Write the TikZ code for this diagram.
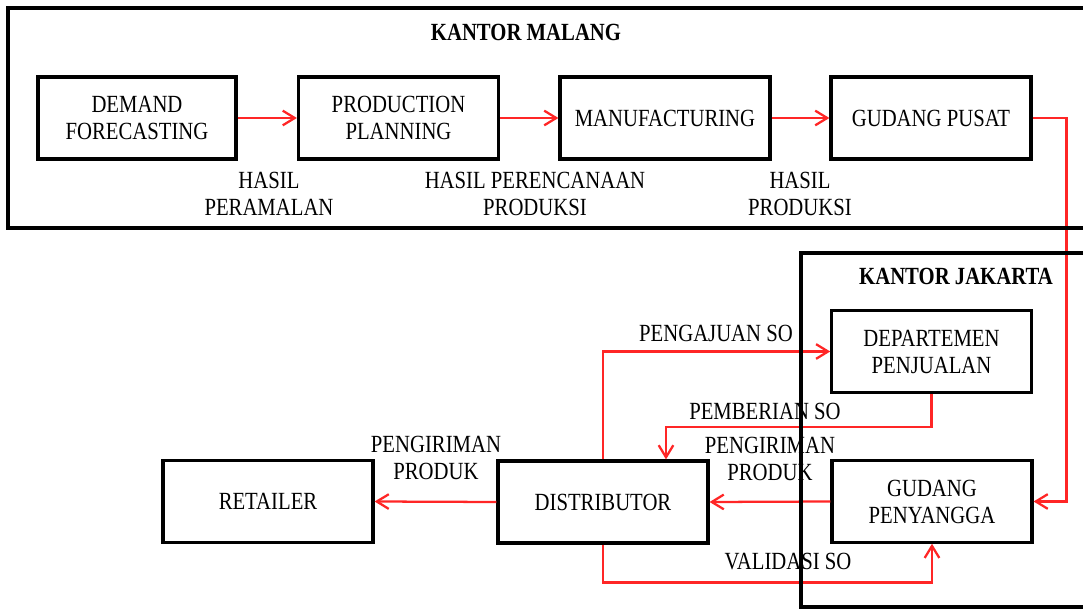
\documentclass[tikz,border=0pt]{standalone}
\usepackage{fontspec}
\setmainfont{Liberation Serif}[FakeStretch=0.84]
\usetikzlibrary{arrows.meta}
\definecolor{FlowRed}{HTML}{FF2626}
\newcommand{\boxfont}{\fontsize{18.5}{20.25}\selectfont}
\tikzset{
  unitbox/.style={draw=black, line width=2.4pt, fill=white, align=center, minimum height=61.5pt, inner sep=2pt, font=\boxfont},
  officeframe/.style={draw=black, line width=2.4pt},
  officetitle/.style={font=\boxfont\bfseries, inner sep=0pt},
  flowlabel/.style={align=center, font=\boxfont, inner sep=0pt},
  flow/.style={-{Straight Barb[length=9pt, width=11pt]}, line width=1.7pt, draw=FlowRed}
}

\begin{document}
\begin{tikzpicture}[x=0.75pt, y=-0.75pt]
\useasboundingbox (0,0) rectangle (1083,610);
\clip (0,0) rectangle (1083,610);
% kantor malang
\node[unitbox, minimum width=148.5pt] (demand) at (137,118) {DEMAND\\FORECASTING};
\node[unitbox, minimum width=150pt] (production) at (398.5,118) {PRODUCTION\\PLANNING};
\node[unitbox, minimum width=157.5pt] (manufacturing) at (665,118) {MANUFACTURING};
\node[unitbox, minimum width=150pt] (pusat) at (931,118) {GUDANG PUSAT};
% kantor jakarta
\node[unitbox, minimum width=149.5pt, minimum height=62pt] (departemen) at (931.5,351.5) {DEPARTEMEN\\PENJUALAN};
\node[unitbox, minimum width=150pt, minimum height=61pt] (penyangga) at (932,501.5) {GUDANG\\PENYANGGA};
% luar kantor
\node[unitbox, minimum width=157.5pt] (distributor) at (603,502) {DISTRIBUTOR};
\node[unitbox, minimum width=157.5pt, minimum height=61pt] (retailer) at (268,501.5) {RETAILER};

\node[officetitle] (malangtitle) at (526,32) {KANTOR MALANG};
\node[officetitle] (jakartatitle) at (956,276) {KANTOR JAKARTA};

\node[flowlabel] (peramalan) at (269,193.5) {HASIL\\PERAMALAN};
\node[flowlabel] (perencanaan) at (535,193.5) {HASIL PERENCANAAN\\PRODUKSI};
\node[flowlabel] (hasilproduksi) at (800,193.5) {HASIL\\PRODUKSI};
\node[flowlabel] (pengajuan) at (716,333) {PENGAJUAN SO};
\node[flowlabel] (pemberian) at (765,411) {PEMBERIAN SO};
\node[flowlabel] (kirimgudang) at (770,459) {PENGIRIMAN\\PRODUK};
\node[flowlabel] (validasi) at (788,562) {VALIDASI SO};
\node[flowlabel] (kirimretail) at (436,458) {PENGIRIMAN\\PRODUK};

\coordinate (sojoint) at (666,427);

\draw[flow] (demand) -- (production);
\draw[flow] (production) -- (manufacturing);
\draw[flow] (manufacturing) -- (pusat);
\draw[flow] (pusat.east) -- ++(34,0) |- (penyangga.east);
\draw[flow] (distributor.north) |- (departemen.west);
\draw[flow] (departemen.south) |- (sojoint) -- (sojoint |- distributor.north);
\draw[flow] (penyangga.west) -- (distributor.east);
\draw[flow] (distributor.south) -- ++(0,38) -| (penyangga.south);
\draw[flow] (distributor.west) -- (retailer.east);

\draw[officeframe] (8,8) rectangle (1110,228);
\draw[officeframe] (801,253) rectangle (1110,607);
\end{tikzpicture}
\end{document}
